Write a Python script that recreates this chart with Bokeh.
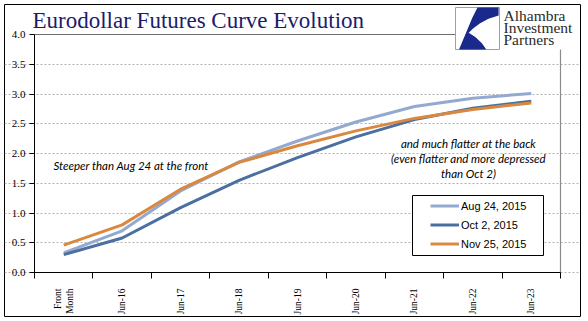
import math
from bokeh.plotting import figure
from bokeh.models import (Range1d, FixedTicker, PrintfTickFormatter, Legend, LegendItem,
                          BoxAnnotation, PolyAnnotation, Label)
from bokeh.embed import file_html
from bokeh.resources import INLINE

# ---------------- data ----------------
categories = ["Front\nMonth", "Jun-16", "Jun-17", "Jun-18", "Jun-19",
              "Jun-20", "Jun-21", "Jun-22", "Jun-23"]
aug24 = [0.33, 0.70, 1.37, 1.86, 2.21, 2.53, 2.79, 2.93, 3.01]
oct2 = [0.30, 0.58, 1.09, 1.55, 1.93, 2.28, 2.57, 2.76, 2.88]
nov25 = [0.46, 0.80, 1.40, 1.85, 2.13, 2.38, 2.59, 2.74, 2.85]
series_labels = ["Aug 24, 2015", "Oct 2, 2015", "Nov 25, 2015"]
y_ticks = [0.0, 0.5, 1.0, 1.5, 2.0, 2.5, 3.0, 3.5, 4.0]

# ---------------- layout constants (pixels) ----------------
W, H = 588, 321
O_L, O_R, O_T, O_B = 4, 580, 4, 316      # outer border = frame
A_L, A_R, A_T, A_B = 34, 560, 34, 272    # chart area
X_MAX, Y_MAX = len(categories), 4.0
KX = (A_R - A_L) / X_MAX
KY = (A_B - A_T) / Y_MAX


def sx(px):
    return (px - A_L) / KX


def sy(py):
    return (A_B - py) / KY


xc = [i + 0.5 for i in range(len(categories))]
bounds = list(range(len(categories) + 1))

p = figure(width=W, height=H, output_backend="svg", toolbar_location=None,
           x_range=Range1d(sx(O_L), sx(O_R)), y_range=Range1d(sy(O_B), sy(O_T)),
           min_border_left=O_L, min_border_right=W - O_R,
           min_border_top=O_T, min_border_bottom=H - O_B)
p.background_fill_color = "white"
p.border_fill_color = "white"
p.outline_line_color = "black"
p.outline_line_width = 1

# axes drawn inside the frame at fixed locations
p.xaxis.fixed_location = 0
p.xaxis.bounds = (0, X_MAX)
p.xaxis.ticker = FixedTicker(ticks=xc, minor_ticks=bounds)
p.xaxis.major_label_overrides = {x: c for x, c in zip(xc, categories)}
p.xaxis.major_label_orientation = math.pi / 2
p.xaxis.major_tick_line_color = None
p.xaxis.major_tick_out = 0
p.xaxis.major_tick_in = 0
p.xaxis.minor_tick_out = 6
p.xaxis.minor_tick_in = 0
p.xaxis.minor_tick_line_color = "black"
p.xaxis.major_label_standoff = 10
p.xaxis.major_label_text_font = "Liberation Serif"
p.xaxis.major_label_text_font_size = "9.5px"
p.xaxis.major_label_text_color = "black"
p.xaxis.axis_line_color = "black"

p.yaxis.fixed_location = 0
p.yaxis.bounds = (0, Y_MAX)
p.yaxis.ticker = FixedTicker(ticks=y_ticks, minor_ticks=[])
p.yaxis.formatter = PrintfTickFormatter(format="%.1f")
p.yaxis.major_tick_out = 5
p.yaxis.major_tick_in = 0
p.yaxis.major_tick_line_color = "black"
p.yaxis.major_label_standoff = 4
p.yaxis.major_label_text_font = "Liberation Serif"
p.yaxis.major_label_text_font_size = "11px"
p.yaxis.major_label_text_color = "black"
p.yaxis.axis_line_color = "black"

p.xgrid.visible = False
p.ygrid.ticker = FixedTicker(ticks=y_ticks[:-1])
p.ygrid.bounds = (0, X_MAX)
p.ygrid.grid_line_color = "#b0b0b0"
p.ygrid.grid_line_dash = "2 2"

# top line and right border of the chart area
p.segment(x0=[0], y0=[Y_MAX], x1=[sx(455)], y1=[Y_MAX], line_color="#6e6e6e", line_width=1.2)
p.segment(x0=[X_MAX], y0=[0], x1=[X_MAX], y1=[sy(49)], line_color="#8c8c8c", line_width=1.2)

# series
colors = ["#93a9cf", "#4a6fa0", "#d9893f"]
renderers = []
for vals, col in zip([aug24, oct2, nov25], colors):
    r = p.line(xc, vals, line_width=3, line_color=col, line_join="round")
    renderers.append(r)

# legend box + legend
p.add_layout(BoxAnnotation(left=sx(412), right=sx(543), top=sy(195), bottom=sy(255),
                           fill_color="white", fill_alpha=1.0,
                           line_color="black", line_width=1, line_alpha=1.0))
legend = Legend(items=[LegendItem(label=l, renderers=[r]) for l, r in zip(series_labels, renderers)],
                location=(430 - O_L, O_B - 253), orientation="vertical",
                glyph_width=29, glyph_height=19, label_height=19, label_standoff=2,
                spacing=0, padding=0, margin=0,
                border_line_color=None, background_fill_alpha=0,
                label_text_font="Liberation Sans", label_text_font_size="11px",
                label_text_color="black")
p.add_layout(legend, "center")

# annotations
ann_font = "Lato"
p.add_layout(Label(x=sx(53), y=sy(165), text="Steeper than Aug 24 at the front",
                   text_font=ann_font, text_font_style="italic", text_font_size="11.5px",
                   text_baseline="middle", text_align="left", text_color="black"))
for txt, py in [("and much flatter at the back", 143),
                ("(even flatter and more depressed", 158),
                ("than Oct 2)", 173)]:
    p.add_layout(Label(x=sx(468), y=sy(py), text=txt,
                       text_font=ann_font, text_font_style="italic", text_font_size="11.5px",
                       text_baseline="middle", text_align="center", text_color="black"))

# title
p.add_layout(Label(x=sx(32), y=sy(20), text="Eurodollar Futures Curve Evolution",
                   text_font="Liberation Serif", text_font_size="23px",
                   text_color="#1b1b6e", text_baseline="middle", text_align="left"))

# logo
bl, br, bt, bb = 455, 499, 7, 49
p.add_layout(BoxAnnotation(left=sx(bl), right=sx(br), top=sy(bt), bottom=sy(bb),
                           fill_color="white", fill_alpha=1.0, line_color="#a0a0a0",
                           line_width=1, line_alpha=1.0))
shape_uv = [(0.5, 0.0), (0.98, 0.0), (0.98, 0.19), (0.75, 0.27), (0.55, 0.38),
            (0.4, 0.5), (0.3, 0.6), (0.45, 0.7), (0.6, 0.85), (0.7, 1.0),
            (0.08, 1.0), (0.18, 0.75), (0.28, 0.5), (0.38, 0.25)]
p.add_layout(PolyAnnotation(xs=[sx(bl + u * (br - bl)) for u, v in shape_uv],
                            ys=[sy(bt + v * (bb - bt)) for u, v in shape_uv],
                            fill_color="#1a2a8a", fill_alpha=1.0, line_color=None))
for txt, py in [("Alhambra", 15), ("Investment", 27), ("Partners", 39)]:
    p.add_layout(Label(x=sx(503), y=sy(py), text=txt, text_font="Liberation Serif",
                       text_font_size="15.5px", text_color="#2a2a2a",
                       text_baseline="middle", text_align="left"))

open("out.html", "w").write(file_html(p, INLINE))
